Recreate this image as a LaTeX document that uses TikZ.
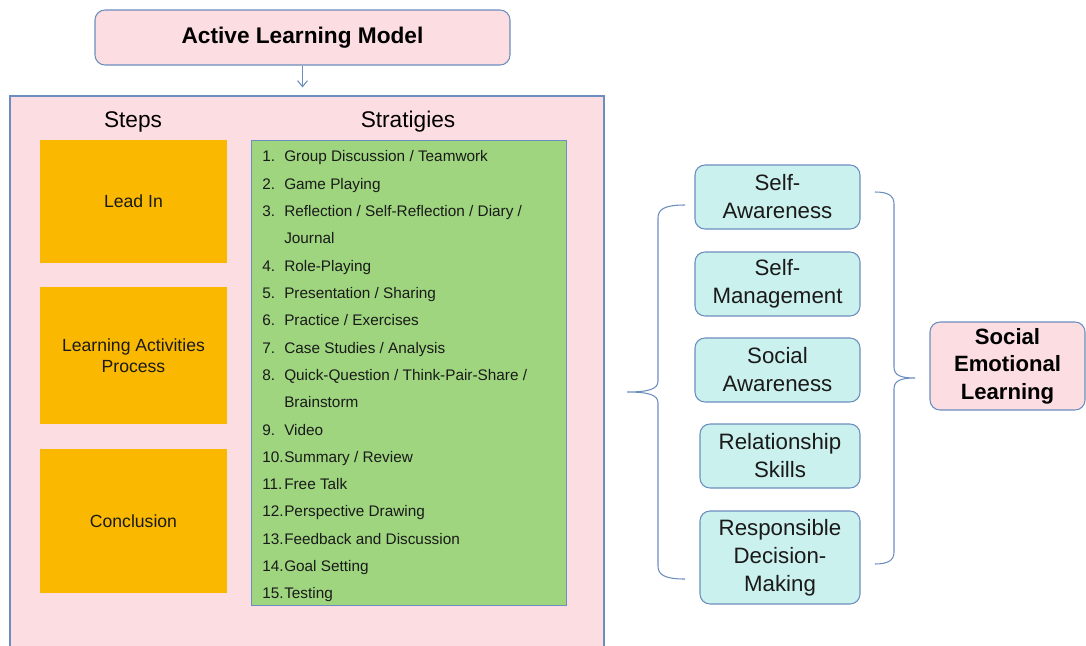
\documentclass[tikz,border=0pt]{standalone}
\usepackage{fontspec}
\setmainfont{Liberation Sans}
\usetikzlibrary{arrows.meta}
\usetikzlibrary{positioning}

\definecolor{modelpink}{RGB}{252,221,225}
\definecolor{edgeblue}{RGB}{108,142,191}
\definecolor{steporange}{RGB}{250,185,0}
\definecolor{listgreen}{RGB}{158,213,126}
\definecolor{selcyan}{RGB}{203,241,238}
\definecolor{inkdark}{RGB}{26,26,26}

\tikzset{pinkbox/.style = {draw=edgeblue, fill=modelpink, line width=0.8pt},
         stepbox/.style = {fill=steporange, text=inkdark, align=center,
                           minimum width={187*0.75pt},
                           font=\fontsize{13.2}{15.8}\selectfont},
         competence/.style = {draw=edgeblue, fill=selcyan, rounded corners=7.5pt,
                              line width=0.8pt, align=center, text=inkdark,
                              font=\fontsize{16.7}{21}\selectfont},
         bracket/.style = {draw=edgeblue, line width=0.8pt},
         flow/.style = {draw=edgeblue, line width=0.8pt,
                        -{Straight Barb[length=4.5pt, width=7.5pt]}},
         listline/.style = {anchor=base west, inner sep=0pt, text=inkdark,
                            font=\fontsize{11.5}{13}\selectfont}}

\begin{document}
\begin{tikzpicture}[x=0.75pt, y=-0.75pt]
    \useasboundingbox (0,0) rectangle (1086,646);

    % model header and its frame
    \node (alm) [pinkbox, rounded corners=7.5pt, minimum width={415*0.75pt},
                 minimum height={55*0.75pt},
                 font=\fontsize{17}{20}\selectfont\bfseries] at (302.5,37.5)
        {Active Learning Model};
    \node (model) [pinkbox, minimum width={594*0.75pt},
                   minimum height={570*0.75pt}] at (307,381) {};
    \draw [flow, shorten >=6pt] (alm.south) -- (alm.south |- model.north);

    \node (stepshead) [font=\fontsize{17}{20}\selectfont] at (133,122) {Steps};
    \node (strathead) [font=\fontsize{17}{20}\selectfont] at (408,122) {Stratigies};

    % steps column
    \node (leadin) [stepbox, minimum height={123*0.75pt}] at (133.5,201.5) {Lead In};
    \node (process) [stepbox, minimum height={137*0.75pt}] at (133.5,355.5)
        {Learning Activities\\Process};
    \node (conclusion) [stepbox, minimum height={144*0.75pt}] at (133.5,521) {Conclusion};

    % strategies list
    \node (strategies) [draw=edgeblue, fill=listgreen, line width=0.7pt,
                        minimum width={315*0.75pt}, minimum height={465*0.75pt}]
        at (408.5,372.5) {};
    \foreach \num/\txt [count=\k] in {1./{Group Discussion / Teamwork},
                                      2./{Game Playing},
                                      3./{Reflection / Self-Reflection / Diary /},
                                      {}/{Journal},
                                      4./{Role-Playing},
                                      5./{Presentation / Sharing},
                                      6./{Practice / Exercises},
                                      7./{Case Studies / Analysis},
                                      8./{Quick-Question / Think-Pair-Share /},
                                      {}/{Brainstorm},
                                      9./{Video},
                                      10./{Summary / Review},
                                      11./{Free Talk},
                                      12./{Perspective Drawing},
                                      13./{Feedback and Discussion},
                                      14./{Goal Setting},
                                      15./{Testing}} {
        \node (num-\k) [listline] at (262,{161.7+(\k-1)*27.33}) {\num};
        \node (item-\k) [listline] at (284,{161.7+(\k-1)*27.33}) {\txt};
    }

    % SEL competencies
    \node (selfaware) [competence, minimum width={165*0.75pt}, minimum height={64*0.75pt}]
        at (777.5,197) {Self-\\Awareness};
    \node (selfmanage) [competence, minimum width={165*0.75pt}, minimum height={64*0.75pt}]
        at (777.5,284) {Self-\\Management};
    \node (socialaware) [competence, minimum width={165*0.75pt}, minimum height={64*0.75pt}]
        at (777.5,370) {Social\\Awareness};
    \node (relation) [competence, minimum width={160*0.75pt}, minimum height={64*0.75pt}]
        at (780,456) {Relationship\\Skills};
    \node (decision) [competence, minimum width={160*0.75pt}, minimum height={93*0.75pt}]
        at (780,557.5) {Responsible\\Decision-\\Making};

    \node (sel) [pinkbox, rounded corners=7.5pt, align=center,
                 minimum width={155*0.75pt}, minimum height={88*0.75pt},
                 font=\fontsize{16.6}{20.5}\selectfont\bfseries] at (1007.5,366)
        {Social\\Emotional\\Learning};

    % braces on both sides of the competencies
    \coordinate (lb-top) at (685,205);
    \coordinate (lb-tip) at (627,392);
    \coordinate (lb-bot) at (685,579);
    \draw [bracket] (lb-top) .. controls (665,205) and (658,209) .. (658,218)
        -- (658,381) .. controls (658,389) and (649,392) .. (lb-tip)
        .. controls (649,392) and (658,395) .. (658,403)
        -- (658,566) .. controls (658,575) and (665,579) .. (lb-bot);

    \coordinate (rb-top) at (875,192);
    \coordinate (rb-tip) at (915,378);
    \coordinate (rb-bot) at (875,564);
    \draw [bracket] (rb-top) .. controls (887,192) and (894,195) .. (894,204)
        -- (894,367) .. controls (894,375) and (900,378) .. (rb-tip)
        .. controls (900,378) and (894,381) .. (894,389)
        -- (894,552) .. controls (894,561) and (887,564) .. (rb-bot);
\end{tikzpicture}
\end{document}
